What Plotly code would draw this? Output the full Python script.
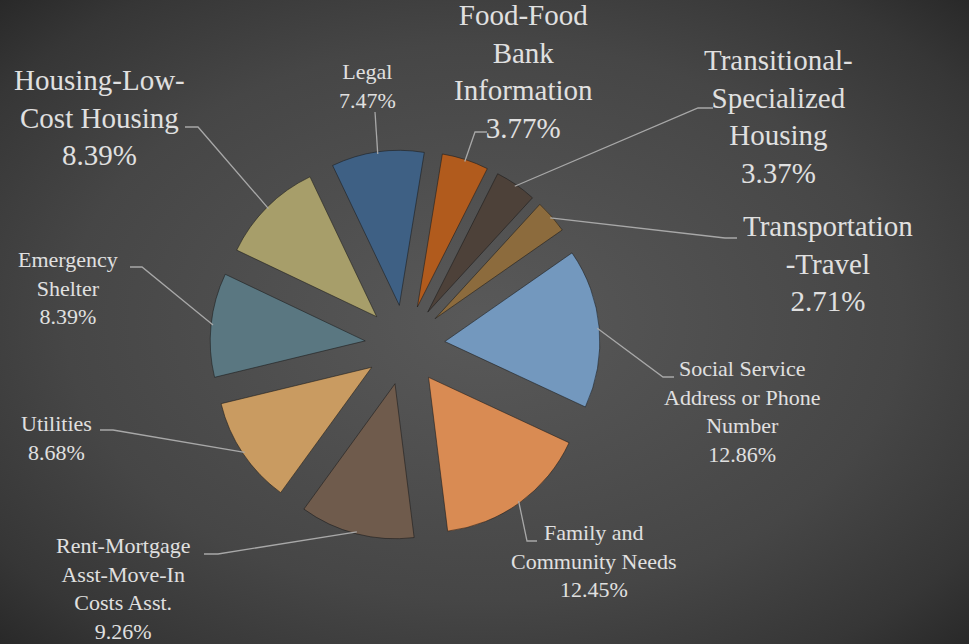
import math
import base64
import plotly.graph_objects as go

W, H = 969, 644

# ---- data (shares as printed on the chart, in %) ----
categories = [
    "Legal",
    "Food-Food Bank Information",
    "Transitional-Specialized Housing",
    "Transportation-Travel",
    "Social Service Address or Phone Number",
    "Family and Community Needs",
    "Rent-Mortgage Asst-Move-In Costs Asst.",
    "Utilities",
    "Emergency Shelter",
    "Housing-Low-Cost Housing",
]
shares = [7.47, 3.77, 3.37, 2.71, 12.86, 12.45, 9.26, 8.68, 8.39, 8.39]
label_lines = [
    "Legal",
    "Food-Food<br>Bank<br>Information",
    "Transitional-<br>Specialized<br>Housing",
    "Transportation<br>-Travel",
    "Social Service<br>Address or Phone<br>Number",
    "Family and<br>Community Needs",
    "Rent-Mortgage<br>Asst-Move-In<br>Costs Asst.",
    "Utilities",
    "Emergency<br>Shelter",
    "Housing-Low-<br>Cost Housing",
]

# ---- style ----
slice_colors = ["#3e6084", "#b15b1d", "#4d4139", "#8c6b3d", "#7398be",
                "#d98b53", "#6f5b4c", "#c99b61", "#5a7781", "#a79e6a"]
TEXT = "#e0e0e0"
LEADER = "#a8a8a8"
FONT = "'Liberation Serif', 'DejaVu Serif', serif"

# pie geometry in pixels (margins are zero so paper == page)
CX, CY, R, PULL_PX = 405, 345, 155, 40
ROTATION = -25.5
pull = PULL_PX / R
half = R + PULL_PX

# label block centre (px), font size, leader knee and end (px)
label_pos = [
    (367, 86, 22, (375, 112), (375, 112)),
    (523, 71, 29, (475, 132), (487, 132)),
    (778, 116, 29, (698, 108), (713, 108)),
    (828, 263, 29, (725, 238), (737, 238)),
    (742, 411, 22, (663, 377), (674, 377)),
    (594, 561, 22, (527, 541), (537, 541)),
    (123, 588, 22, (218, 554), (204, 554)),
    (56, 438, 22, (113, 430), (100, 430)),
    (68, 288, 22, (142, 267), (130, 267)),
    (99, 118, 29, (198, 127), (185, 127)),
]


def px(x, y):
    return x / W, 1 - y / H


fig = go.Figure()
fig.add_trace(go.Pie(
    labels=categories,
    values=shares,
    sort=False,
    direction="clockwise",
    rotation=ROTATION,
    pull=[pull] * len(shares),
    textinfo="none",
    hovertemplate="%{label}: %{value:.2f}%<extra></extra>",
    marker=dict(colors=slice_colors, line=dict(color="rgba(25,25,25,0.55)", width=1)),
    domain=dict(x=[(CX - half) / W, (CX + half) / W],
                y=[1 - (CY + half) / H, 1 - (CY - half) / H]),
    showlegend=False,
))

# ---- labels and leader lines ----
total = sum(shares)
start = ROTATION
annotations, shapes = [], []
for name, v, (lx, ly, fs, knee, end) in zip(label_lines, shares, label_pos):
    span = v / total * 360
    mid = math.radians(start + span / 2)
    start += span
    # exploded slice centre, then outer arc midpoint
    ox = CX + PULL_PX * math.sin(mid)
    oy = CY - PULL_PX * math.cos(mid)
    ax = ox + (R - 2) * math.sin(mid)
    ay = oy - (R - 2) * math.cos(mid)
    pts = [px(ax, ay), px(*knee), px(*end)]
    path = "M {} {} L {} {} L {} {}".format(*[c for p in pts for c in p])
    shapes.append(dict(type="path", xref="paper", yref="paper", path=path,
                       line=dict(color=LEADER, width=1.3)))
    tx, ty = px(lx, ly)
    annotations.append(dict(
        x=tx, y=ty, xref="paper", yref="paper", showarrow=False,
        xanchor="center", yanchor="middle", align="center",
        text=f"{name}<br>{v:.2f}%",
        font=dict(family=FONT, size=fs, color=TEXT),
    ))

# radial gradient background as an inline svg image
svg = f"""<svg xmlns="http://www.w3.org/2000/svg" width="{W}" height="{H}" viewBox="0 0 {W} {H}" preserveAspectRatio="none">
<defs><radialGradient id="g" cx="0.5" cy="0.5" r="0.72">
<stop offset="0" stop-color="#595959"/><stop offset="0.6" stop-color="#464646"/>
<stop offset="0.85" stop-color="#363636"/><stop offset="1" stop-color="#272727"/>
</radialGradient></defs><rect width="{W}" height="{H}" fill="url(#g)"/></svg>"""
bg = "data:image/svg+xml;base64," + base64.b64encode(svg.encode()).decode()

fig.update_layout(
    width=W, height=H,
    margin=dict(l=0, r=0, t=0, b=0),
    paper_bgcolor="#3c3c3c",
    plot_bgcolor="rgba(0,0,0,0)",
    images=[dict(source=bg, xref="paper", yref="paper", x=0, y=1,
                 sizex=1, sizey=1, xanchor="left", yanchor="top",
                 sizing="stretch", layer="below")],
    shapes=shapes,
    annotations=annotations,
    font=dict(family=FONT),
)

# drop the default page margin so the chart sits flush in the window
fig.write_html(
    "out.html",
    config={"displayModeBar": False},
    post_script="document.body.style.margin='0';document.body.style.overflow='hidden';",
)
